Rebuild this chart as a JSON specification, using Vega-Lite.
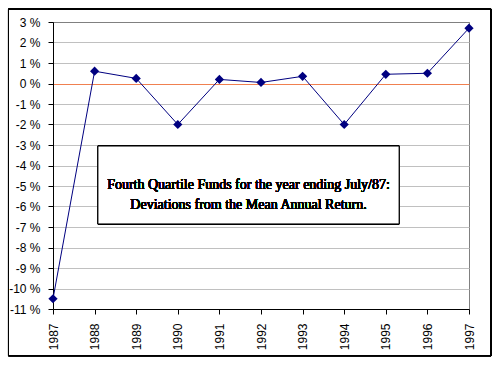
{
  "$schema": "https://vega.github.io/schema/vega-lite/v6.json",
  "width": 416,
  "height": 287,
  "padding": {"left": 7, "top": 8, "right": 9, "bottom": 9},
  "background": "white",
  "config": {
    "view": {"stroke": "#808080", "strokeWidth": 1},
    "axis": {"labelFont": "Liberation Sans", "labelFontSize": 12, "labelColor": "black", "domainColor": "black", "tickColor": "black", "tickSize": 5, "title": null}
  },
  "data": {"values": [
    {"year": 1987, "dev": -10.5},
    {"year": 1988, "dev": 0.6},
    {"year": 1989, "dev": 0.25},
    {"year": 1990, "dev": -2.0},
    {"year": 1991, "dev": 0.2},
    {"year": 1992, "dev": 0.05},
    {"year": 1993, "dev": 0.35},
    {"year": 1994, "dev": -2.0},
    {"year": 1995, "dev": 0.45},
    {"year": 1996, "dev": 0.5},
    {"year": 1997, "dev": 2.7}
  ]},
  "encoding": {
    "x": {"field": "year", "type": "quantitative",
      "scale": {"domain": [1987, 1997], "nice": false, "zero": false},
      "axis": {"values": [1987,1988,1989,1990,1991,1992,1993,1994,1995,1996,1997], "format": "d", "grid": false, "labelAngle": 270, "labelAlign": "right", "labelBaseline": "middle", "labelPadding": 9, "labelFlush": false, "labelOverlap": false}},
    "y": {"field": "dev", "type": "quantitative",
      "scale": {"domain": [-11, 3], "nice": false, "zero": false},
      "axis": {"values": [-11,-10,-9,-8,-7,-6,-5,-4,-3,-2,-1,0,1,2,3], "labelExpr": "datum.value + ' %'", "grid": true, "labelPadding": 8, "labelFlush": false, "labelOverlap": false,
        "gridColor": {"condition": [{"test": "datum.value === 0", "value": "#F08050"}, {"test": "datum.value === 3", "value": "#808080"}], "value": "#C0C0C0"}}}
  },
  "layer": [
    {
      "mark": {"type": "rect", "fill": null, "stroke": "black", "strokeWidth": 1, "clip": false},
      "encoding": {
        "x": {"datum": 1985.93, "type": "quantitative"},
        "x2": {"datum": 1997.53},
        "y": {"datum": 3.63, "type": "quantitative"},
        "y2": {"datum": -13.28}
      }
    },
    {
      "mark": {"type": "line", "color": "#000080", "strokeWidth": 1}
    },
    {
      "mark": {"type": "point", "shape": "diamond", "filled": true, "size": 85, "color": "#000080", "opacity": 1}
    },
    {
      "mark": {"type": "rect", "fill": "white", "stroke": "black", "strokeWidth": 1},
      "encoding": {
        "x": {"datum": 1988.08, "type": "quantitative"},
        "x2": {"datum": 1995.32},
        "y": {"datum": -3.05, "type": "quantitative"},
        "y2": {"datum": -6.85}
      }
    },
    {
      "mark": {"type": "text", "text": ["Fourth  Quartile Funds for the year ending July/87:", "Deviations from the Mean Annual Return."], "font": "Times New Roman, Liberation Serif, serif", "fontSize": 14, "fontWeight": 400, "lineHeight": 20, "align": "center", "baseline": "middle", "fill": "black"},
      "encoding": {
        "x": {"datum": 1991.7, "type": "quantitative"},
        "y": {"datum": -4.95, "type": "quantitative"}
      }
    }
  ]
}
